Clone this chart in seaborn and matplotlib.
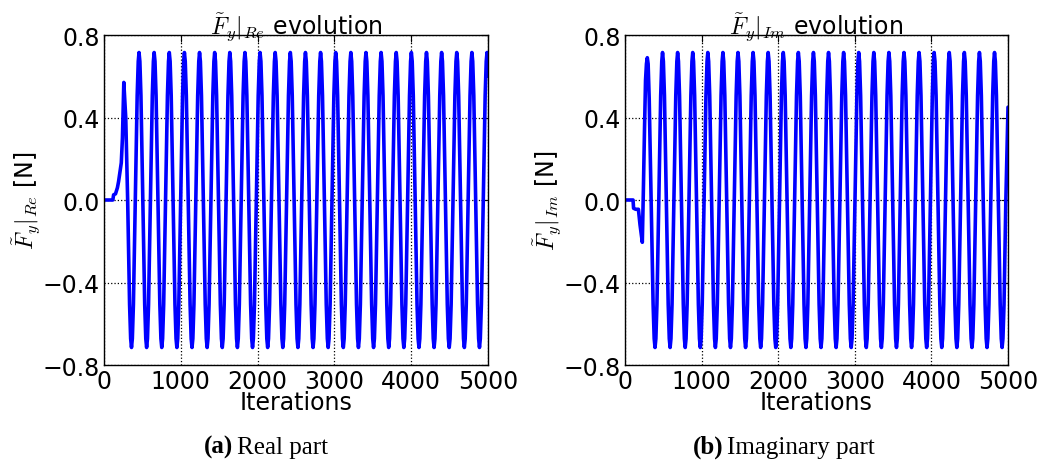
import numpy as np
import pandas as pd
import matplotlib
matplotlib.use("Agg")
import matplotlib.pyplot as plt
import seaborn as sns

# ---------------- data ----------------
x_ticks = [0, 1000, 2000, 3000, 4000, 5000]
y_ticks = [-0.8, -0.4, 0.0, 0.4, 0.8]
titles = [r"$\tilde{F}_y|_{Re}$ evolution", r"$\tilde{F}_y|_{Im}$ evolution"]
ylabels = [r"$\tilde{F}_y|_{Re}$ [N]", r"$\tilde{F}_y|_{Im}$ [N]"]
xlabel = "Iterations"
caption_tags = ["(a)", "(b)"]
caption_texts = ["Real part", "Imaginary part"]

# Real part: iteration samples and force values
iter_re = [
    0, 115, 125, 150, 175, 190, 210, 225, 240, 250, 258, 283, 308, 333, 347,
    358, 369, 383, 407, 432, 446, 456, 467, 481, 506, 530, 544,
    555, 566, 580, 604, 629, 643, 653, 664, 678, 703, 727, 741,
    752, 763, 777, 801, 826, 840, 850, 861, 875, 900, 924, 938,
    949, 960, 974, 998, 1023, 1037, 1047, 1058, 1072, 1097, 1121, 1135,
    1146, 1157, 1171, 1195, 1220, 1234, 1244, 1255, 1269, 1294, 1318, 1332,
    1343, 1354, 1368, 1392, 1417, 1431, 1441, 1452, 1466, 1491, 1515, 1529,
    1540, 1551, 1565, 1589, 1614, 1628, 1638, 1649, 1663, 1688, 1712, 1726,
    1737, 1748, 1762, 1786, 1811, 1825, 1835, 1846, 1860, 1885, 1909, 1923,
    1934, 1945, 1959, 1983, 2008, 2022, 2032, 2043, 2057, 2082, 2106, 2120,
    2131, 2142, 2156, 2180, 2205, 2219, 2229, 2240, 2254, 2279, 2303, 2317,
    2328, 2339, 2353, 2377, 2402, 2416, 2426, 2437, 2451, 2476, 2500, 2514,
    2525, 2536, 2550, 2574, 2599, 2613, 2623, 2634, 2648, 2673, 2697, 2711,
    2722, 2733, 2747, 2771, 2796, 2810, 2820, 2831, 2845, 2870, 2894, 2908,
    2919, 2930, 2944, 2968, 2993, 3007, 3017, 3028, 3042, 3067, 3091, 3105,
    3116, 3127, 3141, 3165, 3190, 3204, 3214, 3225, 3239, 3264, 3288, 3302,
    3313, 3324, 3338, 3362, 3387, 3401, 3411, 3422, 3436, 3461, 3485, 3499,
    3510, 3521, 3535, 3559, 3584, 3598, 3608, 3619, 3633, 3658, 3682, 3696,
    3707, 3718, 3732, 3756, 3781, 3795, 3805, 3816, 3830, 3855, 3879, 3893,
    3904, 3915, 3929, 3953, 3978, 3992, 4002, 4013, 4027, 4052, 4076, 4090,
    4101, 4112, 4126, 4150, 4175, 4189, 4199, 4210, 4224, 4249, 4273, 4287,
    4298, 4309, 4323, 4347, 4372, 4386, 4396, 4407, 4421, 4446, 4470, 4484,
    4495, 4506, 4520, 4544, 4569, 4583, 4593, 4604, 4618, 4643, 4667, 4681,
    4692, 4703, 4717, 4741, 4766, 4780, 4790, 4801, 4815, 4840, 4864, 4878,
    4889, 4900, 4914, 4938, 4963, 4977, 4987, 5000,
]
force_re = [
    0.0, 0.0, 0.025, 0.03, 0.06, 0.09, 0.14, 0.18, 0.30, 0.45, 0.57, 0.40, 0.0, -0.506, -0.672,
    -0.715, -0.672, -0.506, 0.0, 0.506, 0.672, 0.715, 0.672, 0.506, 0.0, -0.506, -0.672,
    -0.715, -0.672, -0.506, 0.0, 0.506, 0.672, 0.715, 0.672, 0.506, 0.0, -0.506, -0.672,
    -0.715, -0.672, -0.506, 0.0, 0.506, 0.672, 0.715, 0.672, 0.506, 0.0, -0.506, -0.672,
    -0.715, -0.672, -0.506, 0.0, 0.506, 0.672, 0.715, 0.672, 0.506, 0.0, -0.506, -0.672,
    -0.715, -0.672, -0.506, 0.0, 0.506, 0.672, 0.715, 0.672, 0.506, 0.0, -0.506, -0.672,
    -0.715, -0.672, -0.506, 0.0, 0.506, 0.672, 0.715, 0.672, 0.506, 0.0, -0.506, -0.672,
    -0.715, -0.672, -0.506, 0.0, 0.506, 0.672, 0.715, 0.672, 0.506, 0.0, -0.506, -0.672,
    -0.715, -0.672, -0.506, 0.0, 0.506, 0.672, 0.715, 0.672, 0.506, 0.0, -0.506, -0.672,
    -0.715, -0.672, -0.506, 0.0, 0.506, 0.672, 0.715, 0.672, 0.506, 0.0, -0.506, -0.672,
    -0.715, -0.672, -0.506, 0.0, 0.506, 0.672, 0.715, 0.672, 0.506, 0.0, -0.506, -0.672,
    -0.715, -0.672, -0.506, 0.0, 0.506, 0.672, 0.715, 0.672, 0.506, 0.0, -0.506, -0.672,
    -0.715, -0.672, -0.506, 0.0, 0.506, 0.672, 0.715, 0.672, 0.506, 0.0, -0.506, -0.672,
    -0.715, -0.672, -0.506, 0.0, 0.506, 0.672, 0.715, 0.672, 0.506, 0.0, -0.506, -0.672,
    -0.715, -0.672, -0.506, 0.0, 0.506, 0.672, 0.715, 0.672, 0.506, 0.0, -0.506, -0.672,
    -0.715, -0.672, -0.506, 0.0, 0.506, 0.672, 0.715, 0.672, 0.506, 0.0, -0.506, -0.672,
    -0.715, -0.672, -0.506, 0.0, 0.506, 0.672, 0.715, 0.672, 0.506, 0.0, -0.506, -0.672,
    -0.715, -0.672, -0.506, 0.0, 0.506, 0.672, 0.715, 0.672, 0.506, 0.0, -0.506, -0.672,
    -0.715, -0.672, -0.506, 0.0, 0.506, 0.672, 0.715, 0.672, 0.506, 0.0, -0.506, -0.672,
    -0.715, -0.672, -0.506, 0.0, 0.506, 0.672, 0.715, 0.672, 0.506, 0.0, -0.506, -0.672,
    -0.715, -0.672, -0.506, 0.0, 0.506, 0.672, 0.715, 0.672, 0.506, 0.0, -0.506, -0.672,
    -0.715, -0.672, -0.506, 0.0, 0.506, 0.672, 0.715, 0.672, 0.506, 0.0, -0.506, -0.672,
    -0.715, -0.672, -0.506, 0.0, 0.506, 0.672, 0.715, 0.672, 0.506, 0.0, -0.506, -0.672,
    -0.715, -0.672, -0.506, 0.0, 0.506, 0.672, 0.715, 0.672, 0.506, 0.0, -0.506, -0.672,
    -0.715, -0.672, -0.506, 0.0, 0.506, 0.672, 0.715, 0.60,
]

# Imaginary part: iteration samples and force values
iter_im = [
    0, 105, 112, 140, 175, 196, 226, 240, 255, 268, 280, 291, 302, 316, 341, 367, 381,
    392, 403, 417, 441, 466, 480, 490, 501, 515, 540, 564, 578,
    589, 600, 614, 638, 663, 677, 687, 698, 712, 737, 761, 775,
    786, 797, 811, 835, 860, 874, 884, 895, 909, 934, 958, 972,
    983, 994, 1008, 1032, 1057, 1071, 1081, 1092, 1106, 1131, 1155, 1169,
    1180, 1191, 1205, 1229, 1254, 1268, 1278, 1289, 1303, 1328, 1352, 1366,
    1377, 1388, 1402, 1426, 1451, 1465, 1475, 1486, 1500, 1525, 1549, 1563,
    1574, 1585, 1599, 1623, 1648, 1662, 1672, 1683, 1697, 1722, 1746, 1760,
    1771, 1782, 1796, 1820, 1845, 1859, 1869, 1880, 1894, 1919, 1943, 1957,
    1968, 1979, 1993, 2017, 2042, 2056, 2066, 2077, 2091, 2116, 2140, 2154,
    2165, 2176, 2190, 2214, 2239, 2253, 2263, 2274, 2288, 2313, 2337, 2351,
    2362, 2373, 2387, 2411, 2436, 2450, 2460, 2471, 2485, 2510, 2534, 2548,
    2559, 2570, 2584, 2608, 2633, 2647, 2657, 2668, 2682, 2707, 2731, 2745,
    2756, 2767, 2781, 2805, 2830, 2844, 2854, 2865, 2879, 2904, 2928, 2942,
    2953, 2964, 2978, 3002, 3027, 3041, 3051, 3062, 3076, 3101, 3125, 3139,
    3150, 3161, 3175, 3199, 3224, 3238, 3248, 3259, 3273, 3298, 3322, 3336,
    3347, 3358, 3372, 3396, 3421, 3435, 3445, 3456, 3470, 3495, 3519, 3533,
    3544, 3555, 3569, 3593, 3618, 3632, 3642, 3653, 3667, 3692, 3716, 3730,
    3741, 3752, 3766, 3790, 3815, 3829, 3839, 3850, 3864, 3889, 3913, 3927,
    3938, 3949, 3963, 3987, 4012, 4026, 4036, 4047, 4061, 4086, 4110, 4124,
    4135, 4146, 4160, 4184, 4209, 4223, 4233, 4244, 4258, 4283, 4307, 4321,
    4332, 4343, 4357, 4381, 4406, 4420, 4430, 4441, 4455, 4480, 4504, 4518,
    4529, 4540, 4554, 4578, 4603, 4617, 4627, 4638, 4652, 4677, 4701, 4715,
    4726, 4737, 4751, 4775, 4800, 4814, 4824, 4835, 4849, 4874, 4898, 4912,
    4923, 4934, 4948, 4972, 5000,
]
force_im = [
    0.0, 0.0, -0.04, -0.045, -0.045, -0.12, -0.205, 0.05, 0.35, 0.58, 0.66, 0.69, 0.66, 0.49, 0.0, -0.506, -0.672,
    -0.715, -0.672, -0.506, 0.0, 0.506, 0.672, 0.715, 0.672, 0.506, 0.0, -0.506, -0.672,
    -0.715, -0.672, -0.506, 0.0, 0.506, 0.672, 0.715, 0.672, 0.506, 0.0, -0.506, -0.672,
    -0.715, -0.672, -0.506, 0.0, 0.506, 0.672, 0.715, 0.672, 0.506, 0.0, -0.506, -0.672,
    -0.715, -0.672, -0.506, 0.0, 0.506, 0.672, 0.715, 0.672, 0.506, 0.0, -0.506, -0.672,
    -0.715, -0.672, -0.506, 0.0, 0.506, 0.672, 0.715, 0.672, 0.506, 0.0, -0.506, -0.672,
    -0.715, -0.672, -0.506, 0.0, 0.506, 0.672, 0.715, 0.672, 0.506, 0.0, -0.506, -0.672,
    -0.715, -0.672, -0.506, 0.0, 0.506, 0.672, 0.715, 0.672, 0.506, 0.0, -0.506, -0.672,
    -0.715, -0.672, -0.506, 0.0, 0.506, 0.672, 0.715, 0.672, 0.506, 0.0, -0.506, -0.672,
    -0.715, -0.672, -0.506, 0.0, 0.506, 0.672, 0.715, 0.672, 0.506, 0.0, -0.506, -0.672,
    -0.715, -0.672, -0.506, 0.0, 0.506, 0.672, 0.715, 0.672, 0.506, 0.0, -0.506, -0.672,
    -0.715, -0.672, -0.506, 0.0, 0.506, 0.672, 0.715, 0.672, 0.506, 0.0, -0.506, -0.672,
    -0.715, -0.672, -0.506, 0.0, 0.506, 0.672, 0.715, 0.672, 0.506, 0.0, -0.506, -0.672,
    -0.715, -0.672, -0.506, 0.0, 0.506, 0.672, 0.715, 0.672, 0.506, 0.0, -0.506, -0.672,
    -0.715, -0.672, -0.506, 0.0, 0.506, 0.672, 0.715, 0.672, 0.506, 0.0, -0.506, -0.672,
    -0.715, -0.672, -0.506, 0.0, 0.506, 0.672, 0.715, 0.672, 0.506, 0.0, -0.506, -0.672,
    -0.715, -0.672, -0.506, 0.0, 0.506, 0.672, 0.715, 0.672, 0.506, 0.0, -0.506, -0.672,
    -0.715, -0.672, -0.506, 0.0, 0.506, 0.672, 0.715, 0.672, 0.506, 0.0, -0.506, -0.672,
    -0.715, -0.672, -0.506, 0.0, 0.506, 0.672, 0.715, 0.672, 0.506, 0.0, -0.506, -0.672,
    -0.715, -0.672, -0.506, 0.0, 0.506, 0.672, 0.715, 0.672, 0.506, 0.0, -0.506, -0.672,
    -0.715, -0.672, -0.506, 0.0, 0.506, 0.672, 0.715, 0.672, 0.506, 0.0, -0.506, -0.672,
    -0.715, -0.672, -0.506, 0.0, 0.506, 0.672, 0.715, 0.672, 0.506, 0.0, -0.506, -0.672,
    -0.715, -0.672, -0.506, 0.0, 0.506, 0.672, 0.715, 0.672, 0.506, 0.0, -0.506, -0.672,
    -0.715, -0.672, -0.506, 0.0, 0.506, 0.672, 0.715, 0.672, 0.506, 0.0, -0.506, -0.672,
    -0.715, -0.672, -0.506, 0.0, 0.45,
]

# ---------------- styling ----------------
sns.set_style("white")
plt.rcParams.update({
    "font.family": ["DejaVu Sans"],
    "mathtext.fontset": "cm",
    "text.color": "black",
    "axes.labelcolor": "black",
    "axes.edgecolor": "black",
    "axes.linewidth": 1.0,
    "xtick.direction": "in",
    "ytick.direction": "in",
    "xtick.top": True,
    "ytick.right": True,
    "xtick.major.size": 5,
    "ytick.major.size": 5,
    "xtick.color": "black",
    "ytick.color": "black",
    "lines.solid_joinstyle": "round",
})

FS = 17
fig = plt.figure(figsize=(10.46, 4.64), dpi=100)
W, H = 1046, 464
ax_boxes = [(104, 36, 488, 366), (625, 36, 1008, 366)]
series = [(iter_re, force_re), (iter_im, force_im)]

for i, ((l, t, r, b), (xs, ys)) in enumerate(zip(ax_boxes, series)):
    ax = fig.add_axes([l / W, 1 - b / H, (r - l) / W, (b - t) / H])
    df = pd.DataFrame({"Iterations": xs, "Force": ys})
    sns.lineplot(data=df, x="Iterations", y="Force", ax=ax, color="#0000ff",
                 linewidth=2.6, estimator=None, sort=False)
    ax.set_xlim(0, 5000)
    ax.set_ylim(-0.8, 0.8)
    ax.set_xticks(x_ticks)
    ax.set_yticks(y_ticks)
    ax.set_xticklabels([str(v) for v in x_ticks])
    ax.set_yticklabels(["\u2212%.1f" % abs(v) if v < 0 else "%.1f" % v for v in y_ticks])
    ax.tick_params(labelsize=FS, pad=3, colors="black")
    ax.grid(True, linestyle=":", color="black", linewidth=0.9)
    for sp in ax.spines.values():
        sp.set_visible(True)
        sp.set_color("black")
    ax.set_xlabel(xlabel, fontsize=FS, labelpad=-2, color="black")
    ax.set_ylabel(ylabels[i], fontsize=FS, labelpad=0, color="black")
    ax.set_title(titles[i], fontsize=FS, pad=1, color="black")

# captions
cap_x = [233, 723]
for cx, tag, txt in zip(cap_x, caption_tags, caption_texts):
    fig.text(cx / W, 1 - 454 / H, tag, ha="right", va="baseline", color="black",
             fontsize=18, fontweight="bold", family="Liberation Serif")
    fig.text((cx + 4) / W, 1 - 454 / H, txt, ha="left", va="baseline", color="black",
             fontsize=18, family="Liberation Serif")

fig.savefig("out.png", dpi=100, facecolor="white")
